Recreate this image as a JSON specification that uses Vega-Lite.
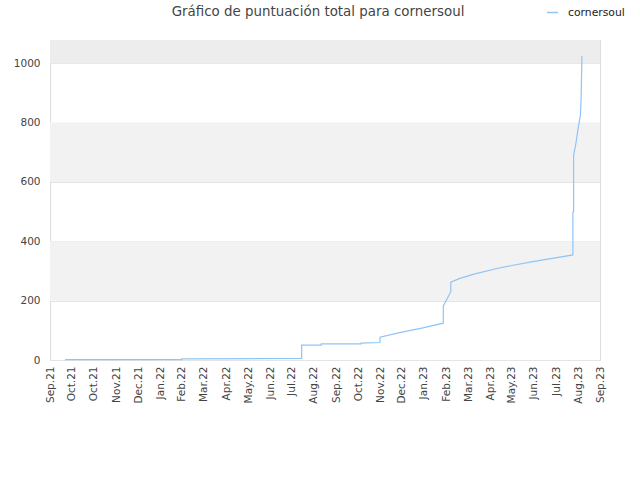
{
  "$schema": "https://vega.github.io/schema/vega-lite/v6.json",
  "width": 550,
  "height": 320,
  "autosize": "none",
  "padding": {"left": 50, "top": 40, "right": 40, "bottom": 120},
  "background": "white",
  "title": {
    "text": "Gráfico de puntuación total para cornersoul",
    "font": "DejaVu Sans",
    "fontSize": 13.4,
    "fontWeight": "normal",
    "color": "#444444",
    "anchor": "middle",
    "frame": "group",
    "dx": -7,
    "offset": -12
  },
  "config": {
    "view": {"stroke": "#dddddd"},
    "font": "DejaVu Sans"
  },
  "datasets": {
    "bandas": [
      {"desde": 200, "hasta": 400, "zona": "media"},
      {"desde": 600, "hasta": 800, "zona": "media"},
      {"desde": 1000, "hasta": 1078, "zona": "alta"}
    ],
    "puntos": [
      {"n": 1, "fecha": "2021-09-22", "puntos": 1, "usuario": "cornersoul"},
      {"n": 2, "fecha": "2022-02-24", "puntos": 1, "usuario": "cornersoul"},
      {"n": 3, "fecha": "2022-02-24", "puntos": 4, "usuario": "cornersoul"},
      {"n": 4, "fecha": "2022-08-02", "puntos": 5, "usuario": "cornersoul"},
      {"n": 5, "fecha": "2022-08-02", "puntos": 50, "usuario": "cornersoul"},
      {"n": 6, "fecha": "2022-08-28", "puntos": 50, "usuario": "cornersoul"},
      {"n": 7, "fecha": "2022-08-28", "puntos": 54, "usuario": "cornersoul"},
      {"n": 8, "fecha": "2022-10-20", "puntos": 54, "usuario": "cornersoul"},
      {"n": 9, "fecha": "2022-10-20", "puntos": 57, "usuario": "cornersoul"},
      {"n": 10, "fecha": "2022-11-14", "puntos": 59, "usuario": "cornersoul"},
      {"n": 11, "fecha": "2022-11-14", "puntos": 77, "usuario": "cornersoul"},
      {"n": 12, "fecha": "2022-12-10", "puntos": 92, "usuario": "cornersoul"},
      {"n": 13, "fecha": "2023-01-10", "puntos": 108, "usuario": "cornersoul"},
      {"n": 14, "fecha": "2023-02-06", "puntos": 124, "usuario": "cornersoul"},
      {"n": 15, "fecha": "2023-02-06", "puntos": 182, "usuario": "cornersoul"},
      {"n": 16, "fecha": "2023-02-16", "puntos": 230, "usuario": "cornersoul"},
      {"n": 17, "fecha": "2023-02-16", "puntos": 262, "usuario": "cornersoul"},
      {"n": 18, "fecha": "2023-02-28", "puntos": 275, "usuario": "cornersoul"},
      {"n": 19, "fecha": "2023-03-20", "puntos": 290, "usuario": "cornersoul"},
      {"n": 20, "fecha": "2023-04-21", "puntos": 310, "usuario": "cornersoul"},
      {"n": 21, "fecha": "2023-06-01", "puntos": 330, "usuario": "cornersoul"},
      {"n": 22, "fecha": "2023-07-28", "puntos": 354, "usuario": "cornersoul"},
      {"n": 23, "fecha": "2023-07-28", "puntos": 499, "usuario": "cornersoul"},
      {"n": 24, "fecha": "2023-07-29", "puntos": 500, "usuario": "cornersoul"},
      {"n": 25, "fecha": "2023-07-29", "puntos": 690, "usuario": "cornersoul"},
      {"n": 26, "fecha": "2023-08-01", "puntos": 730, "usuario": "cornersoul"},
      {"n": 27, "fecha": "2023-08-04", "puntos": 780, "usuario": "cornersoul"},
      {"n": 28, "fecha": "2023-08-07", "puntos": 825, "usuario": "cornersoul"},
      {"n": 29, "fecha": "2023-08-08", "puntos": 886, "usuario": "cornersoul"},
      {"n": 30, "fecha": "2023-08-09", "puntos": 1024, "usuario": "cornersoul"}
    ]
  },
  "layer": [
    {
      "data": {"name": "bandas"},
      "mark": {"type": "rect"},
      "encoding": {
        "y": {
          "field": "desde",
          "type": "quantitative",
          "title": null,
          "scale": {"domain": [0, 1078], "nice": false},
          "axis": {
            "values": [0, 200, 400, 600, 800, 1000],
            "format": "d",
            "labelFontSize": 10.5,
            "labelColor": "#444444",
            "labelPadding": 10,
            "ticks": false,
            "domain": false,
            "gridColor": "#e4e4e4",
            "labelFlush": false
          }
        },
        "y2": {"field": "hasta"},
        "fill": {
          "field": "zona",
          "type": "nominal",
          "scale": {"domain": ["media", "alta"], "range": ["#f2f2f2", "#ededed"]},
          "legend": null
        }
      }
    },
    {
      "data": {"name": "puntos"},
      "mark": {"type": "line", "strokeWidth": 1.2, "interpolate": "linear"},
      "encoding": {
        "x": {
          "field": "fecha",
          "type": "temporal",
          "title": null,
          "scale": {
            "type": "utc",
            "domain": [
              {"year": 2021, "month": 9, "date": 2, "utc": true},
              {"year": 2023, "month": 9, "date": 2, "utc": true}
            ]
          },
          "axis": {
            "values": [
              {"year": 2021, "month": 9, "date": 2, "utc": true},
              {"year": 2021, "month": 10, "date": 1, "utc": true},
              {"year": 2021, "month": 10, "date": 30, "utc": true},
              {"year": 2021, "month": 11, "date": 29, "utc": true},
              {"year": 2021, "month": 12, "date": 28, "utc": true},
              {"year": 2022, "month": 1, "date": 26, "utc": true},
              {"year": 2022, "month": 2, "date": 24, "utc": true},
              {"year": 2022, "month": 3, "date": 25, "utc": true},
              {"year": 2022, "month": 4, "date": 24, "utc": true},
              {"year": 2022, "month": 5, "date": 23, "utc": true},
              {"year": 2022, "month": 6, "date": 21, "utc": true},
              {"year": 2022, "month": 7, "date": 20, "utc": true},
              {"year": 2022, "month": 8, "date": 18, "utc": true},
              {"year": 2022, "month": 9, "date": 17, "utc": true},
              {"year": 2022, "month": 10, "date": 16, "utc": true},
              {"year": 2022, "month": 11, "date": 14, "utc": true},
              {"year": 2022, "month": 12, "date": 13, "utc": true},
              {"year": 2023, "month": 1, "date": 11, "utc": true},
              {"year": 2023, "month": 2, "date": 10, "utc": true},
              {"year": 2023, "month": 3, "date": 11, "utc": true},
              {"year": 2023, "month": 4, "date": 9, "utc": true},
              {"year": 2023, "month": 5, "date": 8, "utc": true},
              {"year": 2023, "month": 6, "date": 6, "utc": true},
              {"year": 2023, "month": 7, "date": 6, "utc": true},
              {"year": 2023, "month": 8, "date": 4, "utc": true},
              {"year": 2023, "month": 9, "date": 2, "utc": true}
            ],
            "labelExpr": "utcFormat(datum.value, '%b.%y')",
            "labelAngle": -90,
            "labelFontSize": 10.5,
            "labelColor": "#444444",
            "labelPadding": 6,
            "ticks": false,
            "domain": false,
            "grid": false,
            "labelOverlap": false,
            "labelFlush": false,
            "labelBound": false
          }
        },
        "y": {"field": "puntos", "type": "quantitative"},
        "order": {"field": "n", "type": "quantitative"},
        "color": {
          "field": "usuario",
          "type": "nominal",
          "scale": {"range": ["#90c4f5"]},
          "legend": {
            "title": null,
            "orient": "none",
            "legendX": 496,
            "legendY": -34,
            "symbolType": "stroke",
            "symbolSize": 120,
            "symbolStrokeWidth": 1.5,
            "labelOffset": 9,
            "labelFontSize": 10.8,
            "labelColor": "#222222"
          }
        }
      }
    }
  ]
}
